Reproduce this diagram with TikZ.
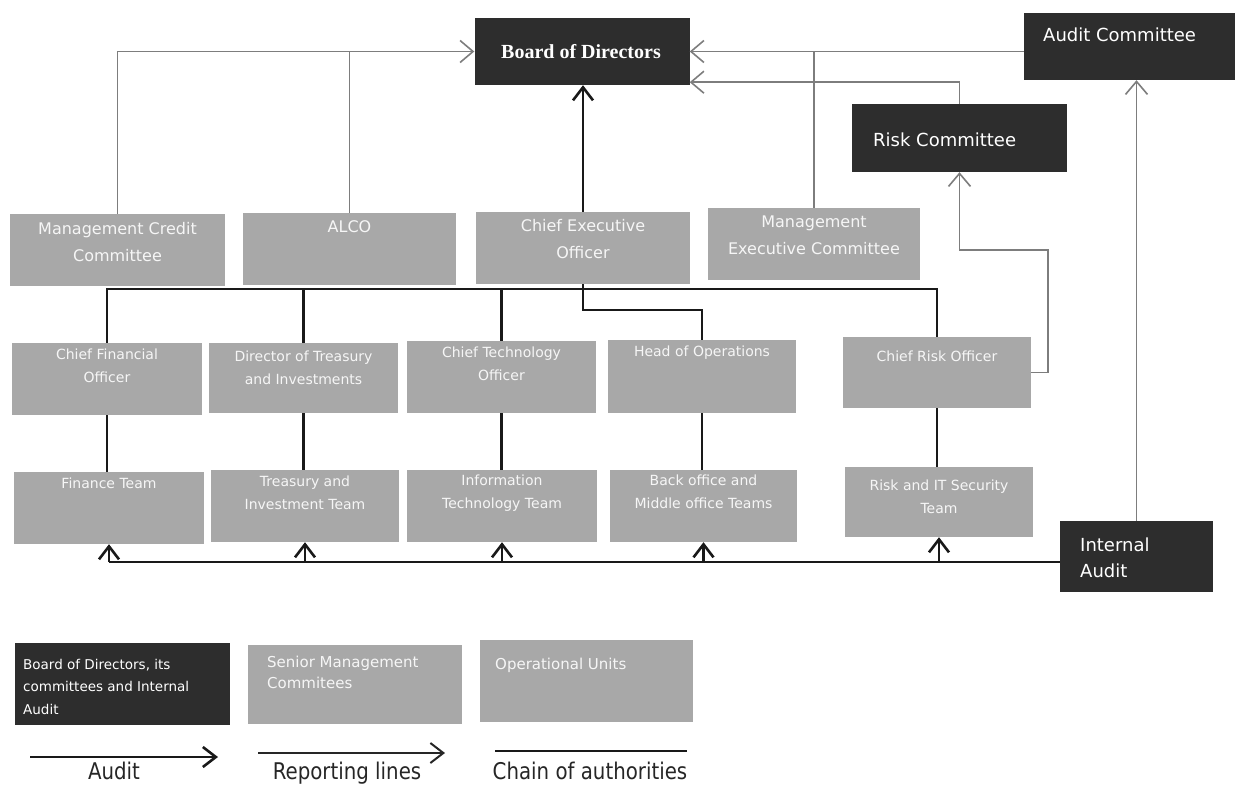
\documentclass[tikz,border=0pt]{standalone}
\usepackage{fontspec}
\setmainfont{DejaVu Sans}
\newfontfamily\boardfont{Liberation Serif}
\newfontfamily\legfont[FakeStretch=0.86]{DejaVu Sans}
\usetikzlibrary{arrows.meta}
\definecolor{boxgrey}{RGB}{168,168,168}
\definecolor{boxdark}{RGB}{45,45,45}
\definecolor{linegrey}{RGB}{125,125,125}
\definecolor{boxtext}{RGB}{246,246,246}
\begin{document}
\begin{tikzpicture}[x=1pt,y=-1pt,
  gbox/.style={rectangle, fill=boxgrey, draw=none, inner sep=0pt},
  dbox/.style={rectangle, fill=boxdark, draw=none, inner sep=0pt},
  toptxt/.style={anchor=north, align=center, inner sep=0pt, text=boxtext, font=\fontsize{16}{27}\selectfont},
  offtxt/.style={anchor=north, align=center, inner sep=0pt, text=boxtext, font=\fontsize{14}{22.5}\selectfont},
  darktxt/.style={inner sep=0pt, text=white, font=\fontsize{18}{26}\selectfont},
  legtxt/.style={anchor=base, inner sep=0pt, text=black!85, font=\legfont\fontsize{23}{27}\selectfont},
  rline/.style={draw=linegrey, line width=1.6pt},
  rarrow/.style={rline, -{Straight Barb[length=13pt,width=22pt]}},
  cline/.style={draw=black!90, line width=2.6pt},
  aarrow/.style={draw=black!90, line width=2.6pt, -{Straight Barb[length=13pt,width=20pt]}},
]
\useasboundingbox (0,0) rectangle (1235,787);

% ---------- dark boxes ----------
\node[dbox, minimum width=215pt, minimum height=67pt] (board) at (582,51.5) {};
\node[inner sep=0pt, text=white, font=\boardfont\bfseries\fontsize{20}{24}\selectfont] (tboard) at (581,52) {Board of Directors};
\node[dbox, minimum width=211pt, minimum height=67pt] (audc) at (1129.5,46.5) {};
\node[darktxt, anchor=west] (taudc) at (1043,35) {Audit Committee};
\node[dbox, minimum width=215pt, minimum height=68pt] (risk) at (959.5,138) {};
\node[darktxt, anchor=west] (trisk) at (873,140) {Risk Committee};
\node[dbox, minimum width=153pt, minimum height=71pt] (ia) at (1136.5,556.5) {};
\node[darktxt, anchor=north west, align=left] (tia) at (1080,538) {Internal\\Audit};

% ---------- senior management row ----------
\node[gbox, minimum width=215pt, minimum height=72pt] (mcc) at (117.5,250) {};
\node[toptxt] (tmcc) at ([yshift=-8pt]mcc.north) {Management Credit\\Committee};
\node[gbox, minimum width=213pt, minimum height=72pt] (alco) at (349.5,249) {};
\node[toptxt] (talco) at ([yshift=-8pt]alco.north) {ALCO};
\node[gbox, minimum width=214pt, minimum height=72pt] (ceo) at (583,248) {};
\node[toptxt] (tceo) at ([yshift=-7pt]ceo.north) {Chief Executive\\Officer};
\node[gbox, minimum width=212pt, minimum height=72pt] (mec) at (814,244) {};
\node[toptxt] (tmec) at ([yshift=-8pt]mec.north) {Management\\Executive Committee};

% ---------- officers ----------
\node[gbox, minimum width=190pt, minimum height=72pt] (cfo) at (107,379) {};
\node[offtxt] (tcfo) at ([yshift=-6pt]cfo.north) {Chief Financial\\Officer};
\node[gbox, minimum width=189pt, minimum height=70pt] (dti) at (303.5,378) {};
\node[offtxt] (tdti) at ([yshift=-8pt]dti.north) {Director of Treasury\\and Investments};
\node[gbox, minimum width=189pt, minimum height=72pt] (cto) at (501.5,377) {};
\node[offtxt] (tcto) at ([yshift=-6pt]cto.north) {Chief Technology\\Officer};
\node[gbox, minimum width=188pt, minimum height=73pt] (hoo) at (702,376.5) {};
\node[offtxt] (thoo) at ([yshift=-6pt]hoo.north) {Head of Operations};
\node[gbox, minimum width=188pt, minimum height=71pt] (cro) at (937,372.5) {};
\node[offtxt] (tcro) at ([yshift=-14pt]cro.north) {Chief Risk Officer};

% ---------- teams ----------
\node[gbox, minimum width=190pt, minimum height=72pt] (ft) at (109,508) {};
\node[offtxt] (tft) at ([yshift=-6pt]ft.north) {Finance Team};
\node[gbox, minimum width=188pt, minimum height=72pt] (tt) at (305,506) {};
\node[offtxt] (ttt) at ([yshift=-6pt]tt.north) {Treasury and\\Investment Team};
\node[gbox, minimum width=190pt, minimum height=72pt] (itt) at (502,506) {};
\node[offtxt] (titt) at ([yshift=-5pt]itt.north) {Information\\Technology Team};
\node[gbox, minimum width=187pt, minimum height=72pt] (bot) at (703.5,506) {};
\node[offtxt] (tbot) at ([yshift=-5pt]bot.north) {Back office and\\Middle office Teams};
\node[gbox, minimum width=188pt, minimum height=70pt] (rt) at (939,502) {};
\node[offtxt] (trt) at ([yshift=-13pt]rt.north) {Risk and IT Security\\Team};

% ---------- reporting lines (grey) ----------
\coordinate (bre2) at ([yshift=3pt]board.south east);
\draw[rarrow] (mcc.north) |- (board.west);
\draw[rline] (alco.north) -- (alco.north |- board.west);
\draw[rarrow] (audc.west |- board.east) -- (board.east);
\draw[rline] (mec.north) -- (mec.north |- board.east);
\draw[rarrow] (risk.north) |- (bre2);
\coordinate (crox) at (1048,250);
\draw[rarrow] (cro.east) -| (crox) -| (risk.south);
\draw[rarrow] (ia.north) -- (ia.north |- audc.south);

% ---------- CEO to board ----------
\draw[aarrow] (ceo.north) -- (ceo.north |- board.south);

% ---------- chain of authority ----------
\coordinate (ch) at (0,289);
\coordinate (ch2) at (0,310);
\draw[cline] (cfo.north) -- (cfo.north |- ch) -- (cro.north |- ch) -- (cro.north);
\draw[cline] (dti.north) -- (dti.north |- ch);
\draw[cline] (cto.north) -- (cto.north |- ch);
\draw[cline] (ceo.south) -- (ceo.south |- ch2) -| (hoo.north);
\draw[cline] (cfo.south) -- (cfo.south |- ft.north);
\draw[cline] (dti.south) -- (dti.south |- tt.north);
\draw[cline] (cto.south) -- (cto.south |- itt.north);
\draw[cline] (hoo.south) -- (hoo.south |- bot.north);
\draw[cline] (cro.south) -- (cro.south |- rt.north);

% ---------- audit lines ----------
\coordinate (al) at (0,562);
\draw[cline] (ia.west |- al) -- (ft.south |- al);
\draw[aarrow] (ft.south |- al) -- (ft.south);
\draw[aarrow] (tt.south |- al) -- (tt.south);
\draw[aarrow] (itt.south |- al) -- (itt.south);
\draw[aarrow] (bot.south |- al) -- (bot.south);
\draw[aarrow] (rt.south |- al) -- (rt.south);

% ---------- legend ----------
\node[dbox, minimum width=215pt, minimum height=82pt] (lg1) at (122.5,684) {};
\node[anchor=north west, align=left, inner sep=0pt, text=white, font=\fontsize{13.5}{22.5}\selectfont] (tlg1) at (23,659) {Board of Directors, its\\committees and Internal\\Audit};
\node[gbox, minimum width=214pt, minimum height=79pt] (lg2) at (355,684.5) {};
\node[anchor=north west, align=left, inner sep=0pt, text=boxtext, font=\fontsize{15}{21}\selectfont] (tlg2) at (267,656) {Senior Management\\Commitees};
\node[gbox, minimum width=213pt, minimum height=82pt] (lg3) at (586.5,681) {};
\node[anchor=north west, align=left, inner sep=0pt, text=boxtext, font=\fontsize{15}{21}\selectfont] (tlg3) at (495,658) {Operational Units};

\coordinate (la1) at (30,757);
\coordinate (la2) at (218,757);
\coordinate (lr1) at (258,753);
\coordinate (lr2) at (445,753);
\coordinate (lc1) at (495,751);
\coordinate (lc2) at (687,751);
\draw[aarrow] (la1) -- (la2);
\draw[draw=black!85, line width=2pt, -{Straight Barb[length=13pt,width=20pt]}] (lr1) -- (lr2);
\draw[cline] (lc1) -- (lc2);
\node[legtxt] (tla) at (114,779) {Audit};
\node[legtxt] (tlr) at (347,779) {Reporting lines};
\node[legtxt] (tlc) at (590,779) {Chain of authorities};
\end{tikzpicture}
\end{document}
